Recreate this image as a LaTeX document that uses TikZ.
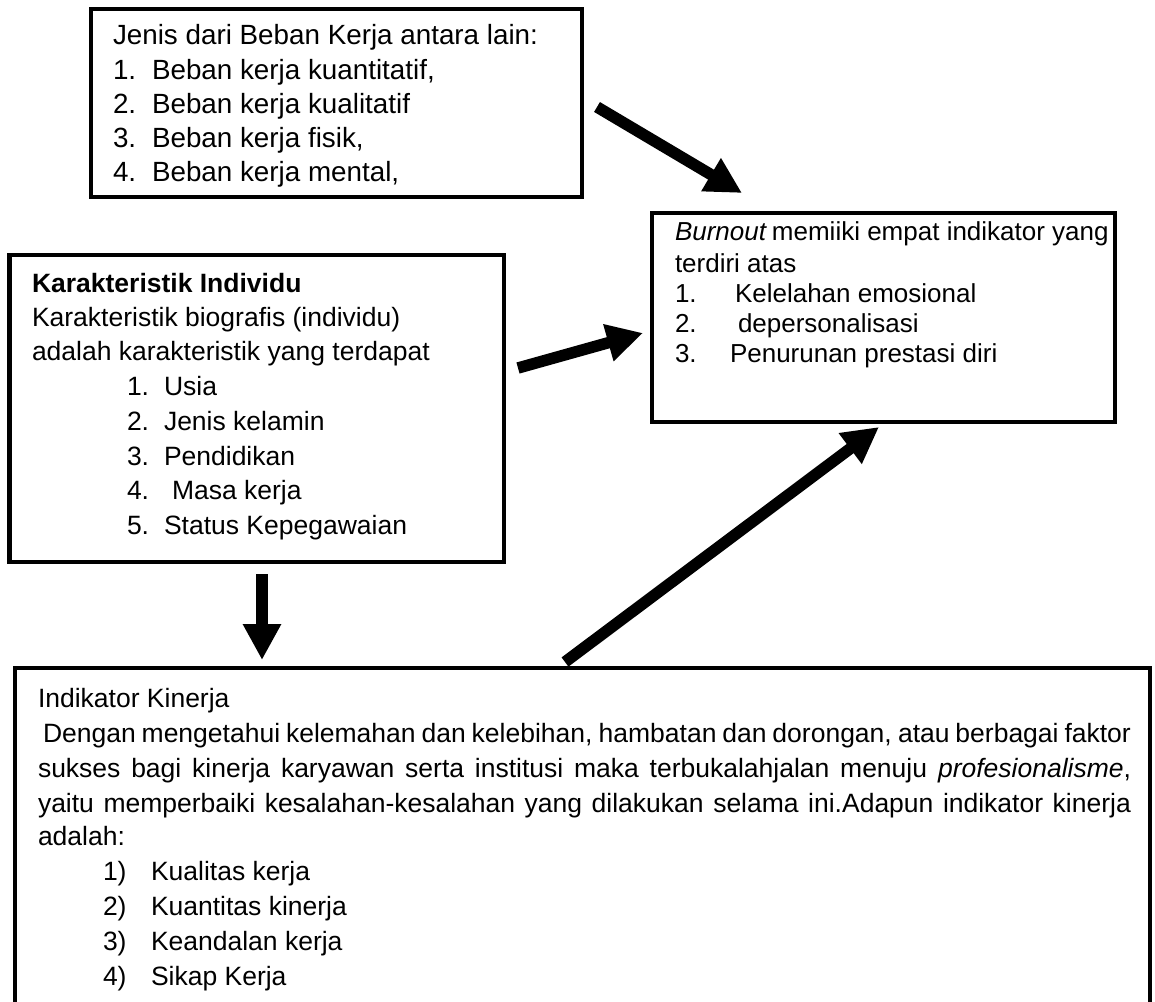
\documentclass[tikz,border=0pt]{standalone}
\usepackage{fontspec}
\setmainfont{Liberation Sans}
\usetikzlibrary{arrows.meta}
\begin{document}
\begin{tikzpicture}[x=1pt,y=-1pt,
  box/.style={draw, line width=4.8pt, outer sep=0pt, inner sep=0pt, anchor=north west},
  ta/.style={anchor=base west, inner sep=0pt, outer sep=0pt, font=\fontsize{27.8}{33}\selectfont},
  tb/.style={anchor=base west, inner sep=0pt, outer sep=0pt, font=\fontsize{26.5}{32}\selectfont},
  tc/.style={anchor=base west, inner sep=0pt, outer sep=0pt, font=\fontsize{26}{32}\selectfont},
  bigarrow/.style={line width=11.5pt, -{Triangle[length=36pt,width=36pt]}}]
\useasboundingbox (0,0) rectangle (1155,1001);
\clip (0,0) rectangle (1155,1001);

% boxes
\node[box, minimum width=491pt, minimum height=188pt] (b1) at (91,9) {};
\node[box, minimum width=494.5pt, minimum height=307pt] (b2) at (9.5,255) {};
\node[box, minimum width=463pt, minimum height=209pt] (b3) at (652,213) {};
\node[box, minimum width=1135pt, minimum height=360pt] (b4) at (15,668) {};

% box 1 text
\node[ta] (t1h) at (113,44) {Jenis dari Beban Kerja antara lain:};
\node[ta] (t1n1) at (113,79) {1.};  \node[ta] (t1i1) at (152,79) {Beban kerja kuantitatif,};
\node[ta] (t1n2) at (113,113) {2.}; \node[ta] (t1i2) at (152,113) {Beban kerja kualitatif};
\node[ta] (t1n3) at (113,147) {3.}; \node[ta] (t1i3) at (152,147) {Beban kerja fisik,};
\node[ta] (t1n4) at (113,181) {4.}; \node[ta] (t1i4) at (152,181) {Beban kerja mental,};

% box 2 text
\node[tb] (t2h) at (32,292) {\textbf{Karakteristik Individu}};
\node[tb] (t2a) at (32,326) {Karakteristik biografis (individu)};
\node[tb] (t2b) at (32,360) {adalah karakteristik yang terdapat};
\node[tb] (t2n1) at (127,395) {1.}; \node[tb] (t2i1) at (164,395) {Usia};
\node[tb] (t2n2) at (127,430) {2.}; \node[tb] (t2i2) at (164,430) {Jenis kelamin};
\node[tb] (t2n3) at (127,465) {3.}; \node[tb] (t2i3) at (164,465) {Pendidikan};
\node[tb] (t2n4) at (127,499) {4.}; \node[tb] (t2i4) at (172,499) {Masa kerja};
\node[tb] (t2n5) at (127,534) {5.}; \node[tb] (t2i5) at (164,534) {Status Kepegawaian};

% box 3 text
\node[tc] (t3h) at (675,240) {\textit{Burnout}\hspace{5pt}memiiki empat indikator yang};
\node[tc] (t3a) at (675,272) {terdiri atas};
\node[tc] (t3n1) at (675,302) {1.}; \node[tc] (t3i1) at (735,302) {Kelelahan emosional};
\node[tc] (t3n2) at (675,332) {2.}; \node[tc] (t3i2) at (738,332) {depersonalisasi};
\node[tc] (t3n3) at (675,362) {3.}; \node[tc] (t3i3) at (730,362) {Penurunan prestasi diri};

% box 4 text
\node[tb] (t4h) at (38,707) {Indikator Kinerja};
\node[tb] (t4a) at (43,742) {\makebox[1088pt][s]{Dengan mengetahui kelemahan dan kelebihan, hambatan dan dorongan, atau berbagai faktor}};
\node[tb] (t4b) at (38,777) {\makebox[1093pt][s]{sukses bagi kinerja karyawan serta institusi maka terbukalahjalan menuju \textit{profesionalisme},}};
\node[tb] (t4c) at (38,812) {\makebox[1093pt][s]{yaitu memperbaiki kesalahan-kesalahan yang dilakukan selama ini.Adapun indikator kinerja}};
\node[tb] (t4d) at (38,845) {adalah:};
\node[tb] (t4n1) at (103,880) {1)}; \node[tb] (t4i1) at (151,880) {Kualitas kerja};
\node[tb] (t4n2) at (103,915) {2)}; \node[tb] (t4i2) at (151,915) {Kuantitas kinerja};
\node[tb] (t4n3) at (103,950) {3)}; \node[tb] (t4i3) at (151,950) {Keandalan kerja};
\node[tb] (t4n4) at (103,985) {4)}; \node[tb] (t4i4) at (151,985) {Sikap Kerja};

% connector end points
\coordinate (a1s) at (597,107); \coordinate (a1e) at (742,193);
\coordinate (a2s) at (518,368); \coordinate (a2e) at (643,333);
\coordinate (a3s) at (262,574); \coordinate (a3e) at (262,660);
\coordinate (a4s) at (565,662); \coordinate (a4e) at (879,427);

\draw[bigarrow] (a1s) -- (a1e);
\draw[bigarrow] (a2s) -- (a2e);
\draw[bigarrow] (a3s) -- (a3e);
\draw[bigarrow] (a4s) -- (a4e);
\end{tikzpicture}
\end{document}
